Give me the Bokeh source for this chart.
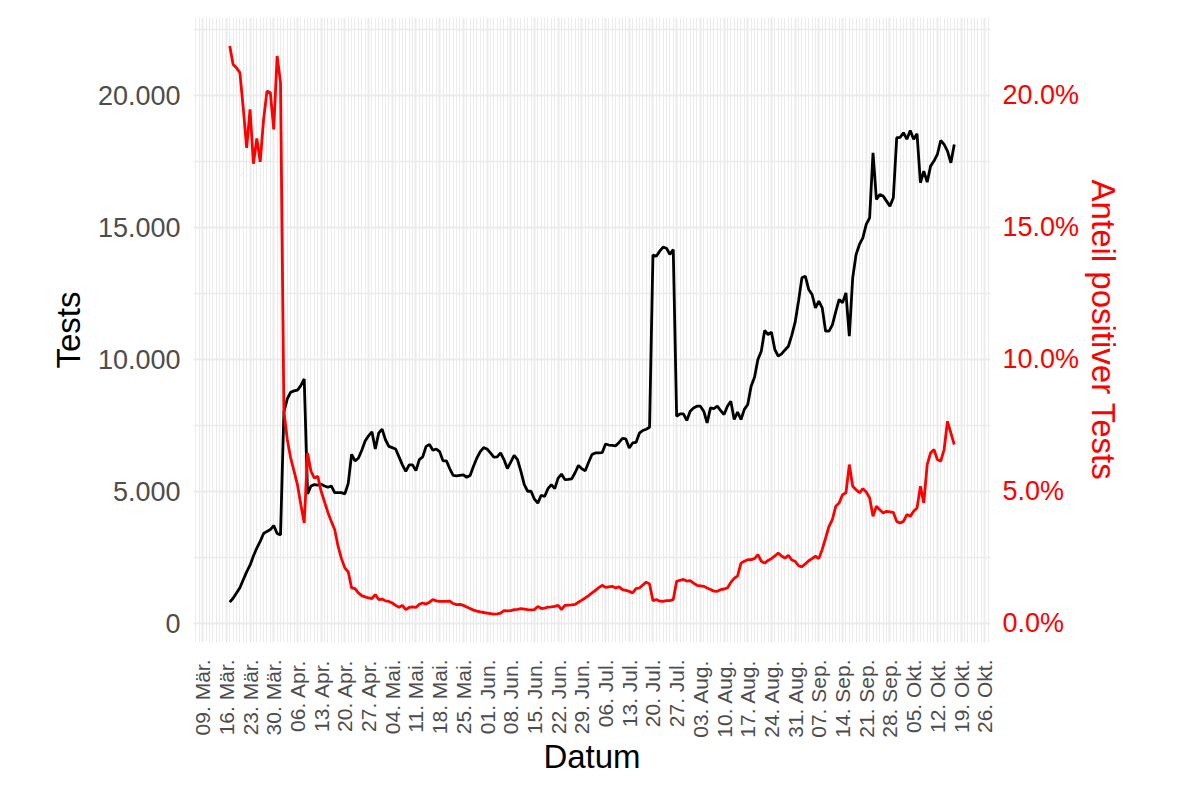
import pandas as pd
from bokeh.plotting import figure
from bokeh.models import Range1d, LinearAxis, FixedTicker, ColumnDataSource
from bokeh.embed import file_html
from bokeh.resources import INLINE

# ---------------- data ----------------
first_day = "2020-03-17"

tests = [
    800, 950, 1150, 1350, 1650, 1950, 2200, 2550, 2850, 3100,
    3400, 3480, 3550, 3700, 3400, 3350, 8000, 8500, 8750, 8800,
    8830, 9000, 9250, 4900, 5200, 5250, 5230, 5270, 5200, 5150,
    5200, 4950, 4950, 4950, 4900, 5300, 6400, 6150, 6250, 6550,
    6900, 7100, 7250, 6600, 7200, 7350, 6950, 6700, 6650, 6600,
    6300, 6000, 5750, 6000, 6000, 5780, 6200, 6300, 6700, 6770,
    6550, 6600, 6500, 6150, 6150, 5850, 5600, 5580, 5600, 5620,
    5530, 5600, 5950, 6260, 6500, 6650, 6600, 6450, 6290, 6300,
    6450, 6200, 5860, 6100, 6360, 6200, 5750, 5250, 5000, 5000,
    4700, 4550, 4850, 4800, 5100, 5250, 5100, 5500, 5650, 5440,
    5450, 5470, 5700, 5980, 5850, 5780, 6100, 6390, 6450, 6450,
    6460, 6790, 6750, 6740, 6720, 6850, 7000, 6980, 6640, 6830,
    6850, 7200, 7300, 7350, 7420, 13940, 13900, 14090, 14240, 14200,
    13970, 14150, 7840, 7930, 7930, 7680, 8030, 8150, 8220, 8220,
    8030, 7590, 8155, 8130, 8220, 8050, 7905, 8220, 8410, 7715,
    8000, 7715, 8100, 8284, 8977, 9318, 9988, 10300, 11087, 10935,
    11023, 10367, 10114, 10200, 10350, 10490, 10900, 11400, 12200, 13080,
    13144, 12640, 12450, 11943, 12197, 11943, 11060, 11060, 11300, 11800,
    12260, 12133, 12511, 10870, 13080, 13965, 14344, 14595, 15102, 15353,
    17815, 16050, 16237, 16174, 15985, 15795, 16110, 18383, 18400, 18573,
    18330, 18660, 18330, 18535, 16680, 17120, 16700, 17310, 17500, 17750,
    18280, 18130, 17880, 17435, 18130,
]

pct_positive = [
    21.86, 21.16, 21.03, 20.85, 19.5, 18.0, 19.46, 17.4, 18.36, 17.47,
    19.08, 20.15, 20.09, 18.7, 21.48, 20.47, 8.03, 6.96, 6.26, 5.76,
    5.25, 4.5, 3.8, 6.45, 5.76, 5.5, 5.57, 5.0, 4.6, 4.2,
    3.86, 3.55, 2.92, 2.45, 2.1, 1.95, 1.34, 1.31, 1.15, 1.05,
    1.0, 0.96, 0.94, 1.09, 0.9, 0.92, 0.85, 0.83, 0.77, 0.68,
    0.61, 0.68, 0.52, 0.6, 0.62, 0.6, 0.72, 0.77, 0.73, 0.8,
    0.9, 0.85, 0.83, 0.83, 0.83, 0.84, 0.75, 0.71, 0.72, 0.68,
    0.62, 0.56, 0.5, 0.46, 0.43, 0.41, 0.39, 0.37, 0.35, 0.36,
    0.39, 0.48, 0.47, 0.48, 0.52, 0.53, 0.56, 0.54, 0.52, 0.51,
    0.52, 0.64, 0.56, 0.58, 0.61, 0.62, 0.64, 0.68, 0.52, 0.68,
    0.69, 0.7, 0.72, 0.8, 0.88, 0.96, 1.05, 1.15, 1.25, 1.35,
    1.44, 1.36, 1.38, 1.4, 1.34, 1.38, 1.28, 1.25, 1.21, 1.15,
    1.31, 1.34, 1.45, 1.56, 1.49, 0.86, 0.9, 0.84, 0.83, 0.86,
    0.86, 0.9, 1.59, 1.63, 1.66, 1.6, 1.62, 1.52, 1.44, 1.42,
    1.4, 1.34, 1.28, 1.22, 1.21, 1.28, 1.3, 1.34, 1.55, 1.7,
    1.8, 2.28, 2.35, 2.41, 2.41, 2.45, 2.6, 2.35, 2.28, 2.38,
    2.45, 2.55, 2.66, 2.55, 2.47, 2.57, 2.4, 2.35, 2.18, 2.14,
    2.25, 2.37, 2.45, 2.54, 2.45, 2.8, 3.23, 3.67, 3.93, 4.43,
    4.56, 4.87, 4.94, 6.01, 5.19, 5.06, 4.94, 5.1, 4.97, 4.75,
    4.05, 4.43, 4.3, 4.18, 4.24, 4.22, 4.2, 3.86, 3.8, 3.86,
    4.12, 4.05, 4.24, 4.37, 5.19, 4.56, 6.01, 6.45, 6.58, 6.2,
    6.14, 6.58, 7.65, 7.2, 6.77,
]

x_tick_first = "2020-03-09"
x_tick_labels = [
    "09. Mär.", "16. Mär.", "23. Mär.", "30. Mär.", "06. Apr.", "13. Apr.",
    "20. Apr.", "27. Apr.", "04. Mai.", "11. Mai.", "18. Mai.", "25. Mai.",
    "01. Jun.", "08. Jun.", "15. Jun.", "22. Jun.", "29. Jun.", "06. Jul.",
    "13. Jul.", "20. Jul.", "27. Jul.", "03. Aug.", "10. Aug.", "17. Aug.",
    "24. Aug.", "31. Aug.", "07. Sep.", "14. Sep.", "21. Sep.", "28. Sep.",
    "05. Okt.", "12. Okt.", "19. Okt.", "26. Okt.",
]
y_ticks = [0, 5000, 10000, 15000, 20000]
y_tick_labels = ["0", "5.000", "10.000", "15.000", "20.000"]
pct_ticks = [0, 5, 10, 15, 20]
pct_tick_labels = ["0.0%", "5.0%", "10.0%", "15.0%", "20.0%"]
tests_per_pct = 1000  # secondary axis: 1 % <-> 1.000 tests

# ---------------- derived ----------------
dates = pd.date_range(first_day, periods=len(tests), freq="D")
x_ms = [d.value / 1e6 for d in dates]
pct_scaled = [v * tests_per_pct for v in pct_positive]

src = ColumnDataSource(dict(x=x_ms, tests=tests, pct=pct_scaled))

# ggplot-like 5% expansion
x_span = x_ms[-1] - x_ms[0]
x0, x1 = x_ms[0] - 0.05 * x_span, x_ms[-1] + 0.05 * x_span
all_y = list(tests) + pct_scaled
y_lo, y_hi = min(all_y), max(all_y)
y_pad = 0.05 * (y_hi - y_lo)
y0, y1 = y_lo - y_pad, y_hi + y_pad

tick_dates = pd.date_range(x_tick_first, periods=len(x_tick_labels), freq="7D")
tick_ms = [d.value / 1e6 for d in tick_dates]
minor_start = pd.Timestamp(x0 * 1e6).ceil("D")
minor_dates = pd.date_range(minor_start, pd.Timestamp(x1 * 1e6), freq="D")
minor_ms = [d.value / 1e6 for d in minor_dates]

y_minor = [t + 2500 for t in [-5000] + y_ticks if y0 <= t + 2500 <= y1]

FONT = "Liberation Sans"
GRID = "#EBEBEB"

p = figure(width=1184, height=796, output_backend="svg", toolbar_location=None,
           x_range=Range1d(x0, x1), y_range=Range1d(y0, y1),
           min_border_left=193, min_border_right=194,
           min_border_top=17, min_border_bottom=154)
p.outline_line_color = None
p.background_fill_color = "white"
p.border_fill_color = "white"

p.extra_y_ranges = {"pct": Range1d(y0 / tests_per_pct, y1 / tests_per_pct)}

# x axis
xa = p.xaxis[0]
xa.ticker = FixedTicker(ticks=tick_ms, minor_ticks=minor_ms)
xa.major_label_overrides = {t: lab for t, lab in zip(tick_ms, x_tick_labels)}
xa.major_label_orientation = 1.5707963267948966
xa.axis_label = "Datum"

# left axis
ya = p.yaxis[0]
ya.ticker = FixedTicker(ticks=y_ticks, minor_ticks=y_minor)
ya.major_label_overrides = {t: lab for t, lab in zip(y_ticks, y_tick_labels)}
ya.axis_label = "Tests"

# right axis
ra = LinearAxis(y_range_name="pct",
                ticker=FixedTicker(ticks=pct_ticks),
                axis_label="Anteil positiver Tests")
ra.major_label_overrides = {t: lab for t, lab in zip(pct_ticks, pct_tick_labels)}
p.add_layout(ra, "right")

for ax in (xa, ya, ra):
    ax.axis_line_color = None
    ax.major_tick_line_color = None
    ax.minor_tick_line_color = None
    ax.major_label_text_font = FONT
    ax.axis_label_text_font = FONT
    ax.axis_label_text_font_style = "normal"
    ax.axis_label_text_font_size = "33px"
    ax.axis_label_text_color = "black"
    ax.major_label_text_color = "#4D4D4D"

xa.major_label_text_font_size = "21px"
xa.major_label_standoff = 11
xa.axis_label_standoff = -3
ya.major_label_text_font_size = "27px"
ya.major_label_standoff = 7
ya.axis_label_standoff = 8
ra.major_label_text_font_size = "27px"
ra.major_label_standoff = 6
ra.axis_label_standoff = 3
ra.major_label_text_color = "red"
ra.axis_label_text_color = "red"

# grids
p.xgrid.grid_line_color = GRID
p.xgrid.grid_line_width = 2
p.xgrid.minor_grid_line_color = GRID
p.xgrid.minor_grid_line_width = 1
p.ygrid.grid_line_color = GRID
p.ygrid.grid_line_width = 2
p.ygrid.minor_grid_line_color = GRID
p.ygrid.minor_grid_line_width = 1.5

p.line("x", "tests", source=src, line_color="black", line_width=2.8)
p.line("x", "pct", source=src, line_color="red", line_width=2.8)

open("out.html", "w").write(file_html(p, INLINE))
